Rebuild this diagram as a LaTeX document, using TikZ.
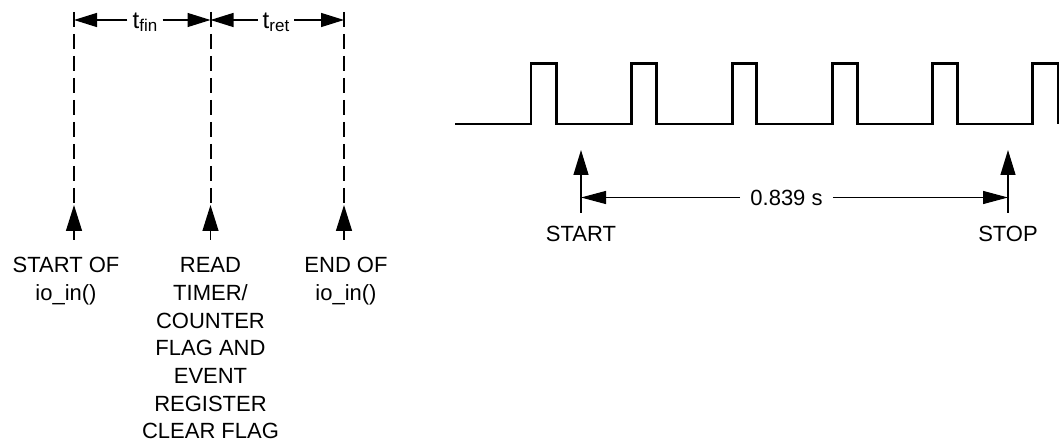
\documentclass[tikz,border=0pt]{standalone}
\usepackage{fontspec}
\setmainfont{Liberation Sans}
\usetikzlibrary{arrows.meta}
\newcommand\subtxt[1]{\raisebox{-3.4pt}{\fontsize{17pt}{17pt}\selectfont #1}}
\begin{document}
\begin{tikzpicture}[x=1pt,y=-1pt,
  lbl/.style={font=\fontsize{22pt}{27.7pt}\selectfont, inner sep=0pt, align=center, anchor=north},
  dimlbl/.style={font=\fontsize{24pt}{27.7pt}\selectfont, inner xsep=5pt, inner ysep=0pt, anchor=base},
  perlbl/.style={font=\fontsize{22pt}{27.7pt}\selectfont, inner xsep=10pt, inner ysep=0pt},
  dashv/.style={line width=2pt, dash pattern=on 15pt off 7pt},
  wave/.style={line width=2.7pt, line join=miter},
  evarrow/.style={line width=1.3pt, -{Triangle[length=26pt,width=16pt]}},
  dimarrow/.style={line width=1.3pt, -{Triangle[length=23pt,width=14pt]}},
  stoparrow/.style={line width=1.3pt, -{Triangle[length=25pt,width=15pt]}},
  perarrow/.style={line width=1.2pt, -{Triangle[length=25pt,width=13pt]}}
]
\useasboundingbox (0,0) rectangle (1060,446);

% left part coordinates
\coordinate (d1top) at (74,12);
\coordinate (d2top) at (210.5,12);
\coordinate (d3top) at (344,12);
\coordinate (d1tip) at (74,205);
\coordinate (d2tip) at (210.5,205);
\coordinate (d3tip) at (344,205);
\coordinate (d1bot) at (74,240);
\coordinate (d2bot) at (210.5,240);
\coordinate (d3bot) at (344,240);
\coordinate (t1) at (74,20);
\coordinate (t2) at (210.5,20);
\coordinate (t3) at (344,20);

% dashed event lines
\draw[dashv] (d1top) -- (d1tip);
\draw[dashv] (d2top) -- (d2tip);
\draw[dashv] (d3top) -- (d3tip);

% event arrows
\draw[evarrow] (d1bot) -- (d1tip);
\draw[evarrow] (d2bot) -- (d2tip);
\draw[evarrow] (d3bot) -- (d3tip);

% dimension labels
\node[dimlbl] (tfin) at (145,28.3) {t\subtxt{fin}};
\node[dimlbl] (tret) at (276,28.3) {t\subtxt{ret}};
\draw[dimarrow] (tfin.west |- t1) -- (t1);
\draw[dimarrow] (tfin.east |- t2) -- (t2);
\draw[dimarrow] (tret.west |- t2) -- (t2);
\draw[dimarrow] (tret.east |- t3) -- (t3);

% event labels
\node[lbl] (startof) at (66,257.3) {START OF\\io\_in()};
\node[lbl] (read) at (210.5,257.3) {READ\\TIMER/\\COUNTER\\FLAG AND\\EVENT\\REGISTER\\CLEAR FLAG};
\node[lbl] (endof) at (346,257.3) {END OF\\io\_in()};

% waveform
\draw[wave] (455,124) -- (531,124) -- (531,63.3) -- (556.7,63.3) -- (556.7,124)
  -- (631.7,124) -- (631.7,63.3) -- (656.7,63.3) -- (656.7,124)
  -- (732.3,124) -- (732.3,63.3) -- (756.7,63.3) -- (756.7,124)
  -- (832.7,124) -- (832.7,63.3) -- (857.3,63.3) -- (857.3,124)
  -- (932.7,124) -- (932.7,63.3) -- (957.3,63.3) -- (957.3,124)
  -- (1032.7,124) -- (1032.7,63.3) -- (1058,63.3) -- (1058,124);

% start / stop
\coordinate (sabot) at (581,213);
\coordinate (satip) at (581,150);
\coordinate (sobot) at (1008,213);
\coordinate (sotip) at (1008,150);
\coordinate (pa) at (581,197.5);
\coordinate (pb) at (1008,197.5);
\draw[stoparrow] (sabot) -- (satip);
\draw[stoparrow] (sobot) -- (sotip);
\node[perlbl] (period) at (786.5,197.5) {0.839 s};
\draw[perarrow] (period.west) -- (pa);
\draw[perarrow] (period.east) -- (pb);
\node[lbl] (start) at (581,226) {START};
\node[lbl] (stop) at (1008,226) {STOP};
\end{tikzpicture}
\end{document}
